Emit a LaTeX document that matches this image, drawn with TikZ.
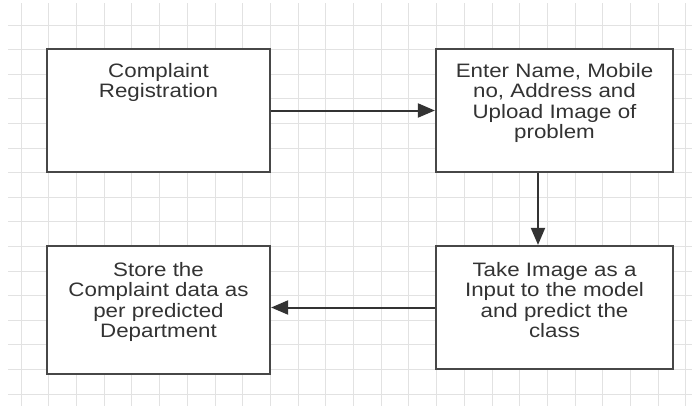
\documentclass[tikz,border=0pt]{standalone}
\usepackage{fontspec}
\setmainfont{Liberation Sans}[FakeStretch=1.15]
\usetikzlibrary{positioning,arrows.meta}

\definecolor{boxgray}{HTML}{474747}
\definecolor{textgray}{HTML}{333333}
\definecolor{gridgray}{HTML}{E2E2E2}

\begin{document}
\begin{tikzpicture}
	[	x=1bp, y=-1bp,
	stepbox/.style={rectangle, draw=boxgray, line width=2.2bp, fill=white, minimum width=223bp, minimum height=123bp, inner sep=0pt},
	plain/.style={draw=none, fill=none, align=center, text=textgray, font=\fontsize{19.5}{20.5}\selectfont, inner sep=0pt},
	flow/.style={-{Triangle[length=17bp,width=14bp]}, draw=textgray, line width=2bp},
	gridline/.style={draw=gridgray, line width=0.8bp}
	]
	\useasboundingbox[fill=white] (0,0) rectangle (700,412);

	% background grid
	\foreach \gx in {0,...,24}
		\draw[gridline] (21+27.7*\gx,3) -- (21+27.7*\gx,406);
	\foreach \gy in {0,...,15}
		\draw[gridline] (8,25+24.6*\gy) -- (692,25+24.6*\gy);

	% boxes
	\node[stepbox] (reg) at (158.5,110.5){};
	\node[stepbox, minimum width=237bp] (enter) at (554.5,110.5){};
	\node[stepbox, minimum height=128bp] (store) at (158.5,310){};
	\node[stepbox, minimum width=237bp] (predict) at (554.5,307.5){};

	\node[plain, below=15bp of reg.north] {Complaint\\Registration};
	\node[plain, below=15bp of enter.north] {Enter Name, Mobile\\no, Address and\\Upload Image of\\problem};
	\node[plain, below=17bp of store.north] {Store the\\Complaint data as\\per predicted\\Department};
	\node[plain, below=17bp of predict.north] {Take Image as a\\Input to the model\\and predict the\\class};

	% connectors
	\draw[flow] (reg.east) -- (enter.west);
	\draw[flow] ([xshift=-16.5bp]enter.south) -- ([xshift=-16.5bp]predict.north);
	\draw[flow] (predict.west) -- (predict.west -| store.east);
\end{tikzpicture}
\end{document}
